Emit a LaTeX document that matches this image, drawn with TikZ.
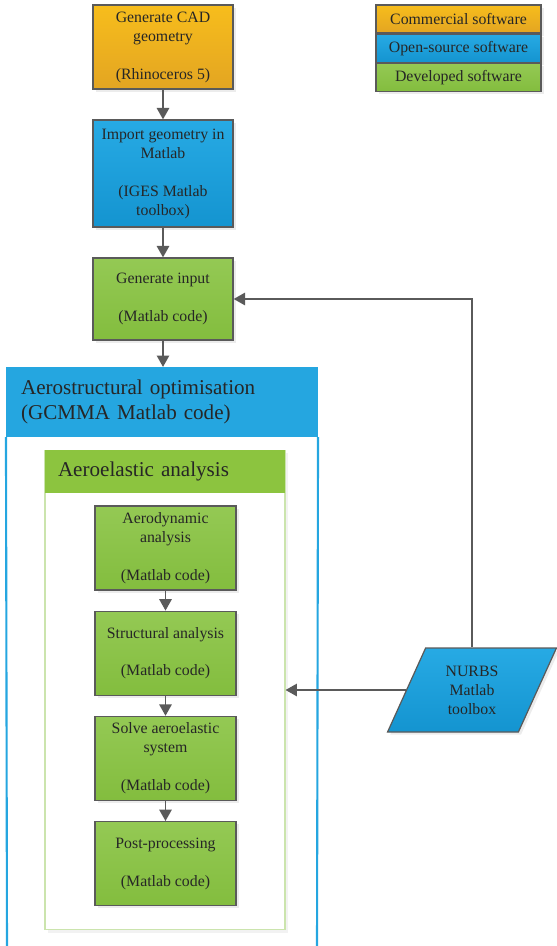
\documentclass[tikz,border=0pt]{standalone}
\usepackage{fontspec}
\setmainfont{Liberation Serif}
\usetikzlibrary{positioning,shapes.geometric,arrows.meta,shadows}

\definecolor{orTop}{HTML}{F7BD1C}
\definecolor{orBot}{HTML}{E3A522}
\definecolor{blTop}{HTML}{27AAE4}
\definecolor{blBot}{HTML}{1494D0}
\definecolor{grTop}{HTML}{94C954}
\definecolor{grBot}{HTML}{83BD3E}
\definecolor{hdBlue}{HTML}{25A6E0}
\definecolor{hdGreen}{HTML}{8CC43F}
\definecolor{paleGreen}{HTML}{CBE4AD}
\definecolor{boxLine}{HTML}{5A5A5A}
\definecolor{txtGray}{HTML}{262626}

\tikzset{
  box/.style={rectangle, draw=boxLine, line width=0.7pt, align=center, text=txtGray,
    font=\fontsize{9}{10.8}\selectfont, minimum width=2.8cm, inner sep=2pt,
    drop shadow={shadow xshift=1.5pt, shadow yshift=-1.5pt, opacity=0.15}},
  commercial/.style={box, top color=orTop, bottom color=orBot},
  opensource/.style={box, top color=blTop, bottom color=blBot},
  developed/.style={box, top color=grTop, bottom color=grBot},
  flow/.style={draw=boxLine, line width=1.1pt, -{Triangle[width=7pt,length=6.5pt]}},
}

\begin{document}
\begin{tikzpicture}[x=0.02cm, y=-0.02cm]
    \useasboundingbox (0,0) rectangle (557,946);

    \node[commercial, minimum height=1.68cm] (cad) at (163,47) {Generate CAD\\geometry\\~\\(Rhinoceros 5)};
    \node[opensource, minimum height=2.14cm] (iges) at (163,173.5) {Import geometry in\\Matlab\\~\\(IGES Matlab\\toolbox)};
    \node[developed, minimum height=1.64cm] (input) at (163,299) {Generate input\\~\\(Matlab code)};

    \node[fill=hdBlue, draw=hdBlue, line width=1.2pt, minimum height=1.36cm, inner xsep=0.28cm,
          text width=5.64cm, align=left, text=txtGray, font=\fontsize{12}{14.4}\selectfont] (optim) at (162,402)
          {Aerostructural optimisation\\(GCMMA Matlab code)};
    \draw[hdBlue, line width=1.2pt] (optim.south west) -- (7,950);
    \draw[hdBlue, line width=1.2pt] (optim.south east) -- (317,950);

    \node[draw=paleGreen, line width=0.6pt, minimum width=4.8cm, minimum height=9.6cm,
          drop shadow={shadow xshift=1.5pt, shadow yshift=-1.5pt, opacity=0.1}, fill=white] (aeroel) at (165,690) {};
    \node[fill=hdGreen, minimum height=0.86cm, inner xsep=0.26cm, text width=4.28cm, align=left,
          text=txtGray, font=\fontsize{12}{13.6}\selectfont, anchor=north] (aerohd) at (aeroel.north) {Aeroelastic analysis};

    \node[developed, minimum width=2.82cm, minimum height=1.68cm] (aero) at (165.5,548) {Aerodynamic\\analysis\\~\\(Matlab code)};
    \node[developed, minimum width=2.82cm, minimum height=1.68cm, below=0.4cm of aero] (struct) {Structural analysis\\~\\(Matlab code)};
    \node[developed, minimum width=2.82cm, minimum height=1.68cm, below=0.4cm of struct] (solve) {Solve aeroelastic\\system\\~\\(Matlab code)};
    \node[developed, minimum width=2.82cm, minimum height=1.68cm, below=0.4cm of solve] (post) {Post-processing\\~\\(Matlab code)};

    \node[opensource, trapezium, trapezium left angle=66, trapezium right angle=114, trapezium stretches=true,
          minimum width=3.38cm, minimum height=1.68cm, inner sep=0pt] (nurbs) at (472,690) {NURBS\\Matlab\\toolbox};

    \node[commercial, minimum width=3.3cm, minimum height=0.56cm] (lgcom) at (458.5,19) {Commercial software};
    \node[opensource, minimum width=3.3cm, minimum height=0.56cm, below=0pt of lgcom] (lgopen) {Open-source software};
    \node[developed, minimum width=3.3cm, minimum height=0.56cm, below=0pt of lgopen] (lgdev) {Developed software};

    \draw[flow] (cad) -- (iges);
    \draw[flow] (iges) -- (input);
    \draw[flow] (input.south) -- (input.south |- optim.north);

    \draw[flow] (aero) -- (struct);
    \draw[flow] (struct) -- (solve);
    \draw[flow] (solve) -- (post);

    \draw[flow] (nurbs.north) |- (input.east);
    \draw[flow] (nurbs.west) -- (aeroel.east);
\end{tikzpicture}
\end{document}
